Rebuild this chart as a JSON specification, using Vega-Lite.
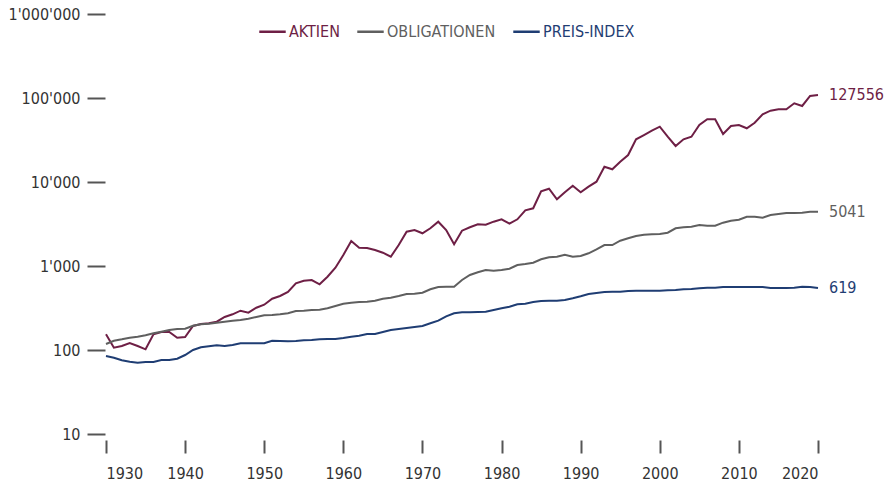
{
  "$schema": "https://vega.github.io/schema/vega-lite/v6.json",
  "width": 712,
  "height": 420,
  "autosize": {"type": "none"},
  "padding": {"left": 106, "top": 14, "right": 75, "bottom": 48},
  "background": "white",
  "config": {
    "view": {"stroke": null},
    "font": "DejaVu Sans Condensed, sans-serif",
    "locale": {"number": {"decimal": ".", "thousands": "'", "grouping": [3], "currency": ["", ""]}}
  },
  "datasets": {
    "series": [
      {"series": "AKTIEN", "year": 1930, "value": 153.8},
      {"series": "AKTIEN", "year": 1931, "value": 106.5},
      {"series": "AKTIEN", "year": 1932, "value": 111.6},
      {"series": "AKTIEN", "year": 1933, "value": 121.2},
      {"series": "AKTIEN", "year": 1934, "value": 111.6},
      {"series": "AKTIEN", "year": 1935, "value": 101.9},
      {"series": "AKTIEN", "year": 1936, "value": 153.8},
      {"series": "AKTIEN", "year": 1937, "value": 163.8},
      {"series": "AKTIEN", "year": 1938, "value": 163.8},
      {"series": "AKTIEN", "year": 1939, "value": 140.1},
      {"series": "AKTIEN", "year": 1940, "value": 142.8},
      {"series": "AKTIEN", "year": 1941, "value": 193.1},
      {"series": "AKTIEN", "year": 1942, "value": 204.0},
      {"series": "AKTIEN", "year": 1943, "value": 207.9},
      {"series": "AKTIEN", "year": 1944, "value": 217.3},
      {"series": "AKTIEN", "year": 1945, "value": 247.1},
      {"series": "AKTIEN", "year": 1946, "value": 266.1},
      {"series": "AKTIEN", "year": 1947, "value": 293.8},
      {"series": "AKTIEN", "year": 1948, "value": 278.0},
      {"series": "AKTIEN", "year": 1949, "value": 318.9},
      {"series": "AKTIEN", "year": 1950, "value": 346.2},
      {"series": "AKTIEN", "year": 1951, "value": 408.0},
      {"series": "AKTIEN", "year": 1952, "value": 439.4},
      {"series": "AKTIEN", "year": 1953, "value": 490.4},
      {"series": "AKTIEN", "year": 1954, "value": 622.3},
      {"series": "AKTIEN", "year": 1955, "value": 668.3},
      {"series": "AKTIEN", "year": 1956, "value": 681.3},
      {"series": "AKTIEN", "year": 1957, "value": 605.6},
      {"series": "AKTIEN", "year": 1958, "value": 745.8},
      {"series": "AKTIEN", "year": 1959, "value": 954.5},
      {"series": "AKTIEN", "year": 1960, "value": 1352},
      {"series": "AKTIEN", "year": 1961, "value": 1985},
      {"series": "AKTIEN", "year": 1962, "value": 1652},
      {"series": "AKTIEN", "year": 1963, "value": 1638},
      {"series": "AKTIEN", "year": 1964, "value": 1550},
      {"series": "AKTIEN", "year": 1965, "value": 1440},
      {"series": "AKTIEN", "year": 1966, "value": 1290},
      {"series": "AKTIEN", "year": 1967, "value": 1778},
      {"series": "AKTIEN", "year": 1968, "value": 2561},
      {"series": "AKTIEN", "year": 1969, "value": 2683},
      {"series": "AKTIEN", "year": 1970, "value": 2451},
      {"series": "AKTIEN", "year": 1971, "value": 2811},
      {"series": "AKTIEN", "year": 1972, "value": 3369},
      {"series": "AKTIEN", "year": 1973, "value": 2683},
      {"series": "AKTIEN", "year": 1974, "value": 1813},
      {"series": "AKTIEN", "year": 1975, "value": 2633},
      {"series": "AKTIEN", "year": 1976, "value": 2889},
      {"series": "AKTIEN", "year": 1977, "value": 3137},
      {"series": "AKTIEN", "year": 1978, "value": 3102},
      {"series": "AKTIEN", "year": 1979, "value": 3369},
      {"series": "AKTIEN", "year": 1980, "value": 3597},
      {"series": "AKTIEN", "year": 1981, "value": 3189},
      {"series": "AKTIEN", "year": 1982, "value": 3597},
      {"series": "AKTIEN", "year": 1983, "value": 4604},
      {"series": "AKTIEN", "year": 1984, "value": 4864},
      {"series": "AKTIEN", "year": 1985, "value": 7751},
      {"series": "AKTIEN", "year": 1986, "value": 8323},
      {"series": "AKTIEN", "year": 1987, "value": 6223},
      {"series": "AKTIEN", "year": 1988, "value": 7542},
      {"series": "AKTIEN", "year": 1989, "value": 9036},
      {"series": "AKTIEN", "year": 1990, "value": 7542},
      {"series": "AKTIEN", "year": 1991, "value": 8790},
      {"series": "AKTIEN", "year": 1992, "value": 10083},
      {"series": "AKTIEN", "year": 1993, "value": 15213},
      {"series": "AKTIEN", "year": 1994, "value": 14166},
      {"series": "AKTIEN", "year": 1995, "value": 17448},
      {"series": "AKTIEN", "year": 1996, "value": 20962},
      {"series": "AKTIEN", "year": 1997, "value": 32237},
      {"series": "AKTIEN", "year": 1998, "value": 36262},
      {"series": "AKTIEN", "year": 1999, "value": 40800},
      {"series": "AKTIEN", "year": 2000, "value": 45532},
      {"series": "AKTIEN", "year": 2001, "value": 34623},
      {"series": "AKTIEN", "year": 2002, "value": 26827},
      {"series": "AKTIEN", "year": 2003, "value": 32237},
      {"series": "AKTIEN", "year": 2004, "value": 34623},
      {"series": "AKTIEN", "year": 2005, "value": 47709},
      {"series": "AKTIEN", "year": 2006, "value": 55774},
      {"series": "AKTIEN", "year": 2007, "value": 55774},
      {"series": "AKTIEN", "year": 2008, "value": 37276},
      {"series": "AKTIEN", "year": 2009, "value": 46416},
      {"series": "AKTIEN", "year": 2010, "value": 47709},
      {"series": "AKTIEN", "year": 2011, "value": 43596},
      {"series": "AKTIEN", "year": 2012, "value": 50816},
      {"series": "AKTIEN", "year": 2013, "value": 63974},
      {"series": "AKTIEN", "year": 2014, "value": 70630},
      {"series": "AKTIEN", "year": 2015, "value": 73401},
      {"series": "AKTIEN", "year": 2016, "value": 73401},
      {"series": "AKTIEN", "year": 2017, "value": 86480},
      {"series": "AKTIEN", "year": 2018, "value": 80320},
      {"series": "AKTIEN", "year": 2019, "value": 105630},
      {"series": "AKTIEN", "year": 2020, "value": 108570},
      {"series": "OBLIGATIONEN", "year": 1930, "value": 117.9},
      {"series": "OBLIGATIONEN", "year": 1931, "value": 129.0},
      {"series": "OBLIGATIONEN", "year": 1932, "value": 134.1},
      {"series": "OBLIGATIONEN", "year": 1933, "value": 140.1},
      {"series": "OBLIGATIONEN", "year": 1934, "value": 144.0},
      {"series": "OBLIGATIONEN", "year": 1935, "value": 149.6},
      {"series": "OBLIGATIONEN", "year": 1936, "value": 158.1},
      {"series": "OBLIGATIONEN", "year": 1937, "value": 165.2},
      {"series": "OBLIGATIONEN", "year": 1938, "value": 173.0},
      {"series": "OBLIGATIONEN", "year": 1939, "value": 177.8},
      {"series": "OBLIGATIONEN", "year": 1940, "value": 179.3},
      {"series": "OBLIGATIONEN", "year": 1941, "value": 194.7},
      {"series": "OBLIGATIONEN", "year": 1942, "value": 202.3},
      {"series": "OBLIGATIONEN", "year": 1943, "value": 205.6},
      {"series": "OBLIGATIONEN", "year": 1944, "value": 211.3},
      {"series": "OBLIGATIONEN", "year": 1945, "value": 217.3},
      {"series": "OBLIGATIONEN", "year": 1946, "value": 223.4},
      {"series": "OBLIGATIONEN", "year": 1947, "value": 227.6},
      {"series": "OBLIGATIONEN", "year": 1948, "value": 235.9},
      {"series": "OBLIGATIONEN", "year": 1949, "value": 247.1},
      {"series": "OBLIGATIONEN", "year": 1950, "value": 258.9},
      {"series": "OBLIGATIONEN", "year": 1951, "value": 261.0},
      {"series": "OBLIGATIONEN", "year": 1952, "value": 266.1},
      {"series": "OBLIGATIONEN", "year": 1953, "value": 273.5},
      {"series": "OBLIGATIONEN", "year": 1954, "value": 291.3},
      {"series": "OBLIGATIONEN", "year": 1955, "value": 293.8},
      {"series": "OBLIGATIONEN", "year": 1956, "value": 299.4},
      {"series": "OBLIGATIONEN", "year": 1957, "value": 301.8},
      {"series": "OBLIGATIONEN", "year": 1958, "value": 313.6},
      {"series": "OBLIGATIONEN", "year": 1959, "value": 334.1},
      {"series": "OBLIGATIONEN", "year": 1960, "value": 355.8},
      {"series": "OBLIGATIONEN", "year": 1961, "value": 365.7},
      {"series": "OBLIGATIONEN", "year": 1962, "value": 372.8},
      {"series": "OBLIGATIONEN", "year": 1963, "value": 375.8},
      {"series": "OBLIGATIONEN", "year": 1964, "value": 386.3},
      {"series": "OBLIGATIONEN", "year": 1965, "value": 408.0},
      {"series": "OBLIGATIONEN", "year": 1966, "value": 419.4},
      {"series": "OBLIGATIONEN", "year": 1967, "value": 439.4},
      {"series": "OBLIGATIONEN", "year": 1968, "value": 464.2},
      {"series": "OBLIGATIONEN", "year": 1969, "value": 468.0},
      {"series": "OBLIGATIONEN", "year": 1970, "value": 481.0},
      {"series": "OBLIGATIONEN", "year": 1971, "value": 528.0},
      {"series": "OBLIGATIONEN", "year": 1972, "value": 562.3},
      {"series": "OBLIGATIONEN", "year": 1973, "value": 567.0},
      {"series": "OBLIGATIONEN", "year": 1974, "value": 567.0},
      {"series": "OBLIGATIONEN", "year": 1975, "value": 681.3},
      {"series": "OBLIGATIONEN", "year": 1976, "value": 781.4},
      {"series": "OBLIGATIONEN", "year": 1977, "value": 841.4},
      {"series": "OBLIGATIONEN", "year": 1978, "value": 896.6},
      {"series": "OBLIGATIONEN", "year": 1979, "value": 879.0},
      {"series": "OBLIGATIONEN", "year": 1980, "value": 896.6},
      {"series": "OBLIGATIONEN", "year": 1981, "value": 928.7},
      {"series": "OBLIGATIONEN", "year": 1982, "value": 1028},
      {"series": "OBLIGATIONEN", "year": 1983, "value": 1056},
      {"series": "OBLIGATIONEN", "year": 1984, "value": 1095},
      {"series": "OBLIGATIONEN", "year": 1985, "value": 1202},
      {"series": "OBLIGATIONEN", "year": 1986, "value": 1269},
      {"series": "OBLIGATIONEN", "year": 1987, "value": 1290},
      {"series": "OBLIGATIONEN", "year": 1988, "value": 1363},
      {"series": "OBLIGATIONEN", "year": 1989, "value": 1290},
      {"series": "OBLIGATIONEN", "year": 1990, "value": 1315},
      {"series": "OBLIGATIONEN", "year": 1991, "value": 1417},
      {"series": "OBLIGATIONEN", "year": 1992, "value": 1580},
      {"series": "OBLIGATIONEN", "year": 1993, "value": 1778},
      {"series": "OBLIGATIONEN", "year": 1994, "value": 1778},
      {"series": "OBLIGATIONEN", "year": 1995, "value": 2001},
      {"series": "OBLIGATIONEN", "year": 1996, "value": 2137},
      {"series": "OBLIGATIONEN", "year": 1997, "value": 2276},
      {"series": "OBLIGATIONEN", "year": 1998, "value": 2358},
      {"series": "OBLIGATIONEN", "year": 1999, "value": 2385},
      {"series": "OBLIGATIONEN", "year": 2000, "value": 2404},
      {"series": "OBLIGATIONEN", "year": 2001, "value": 2491},
      {"series": "OBLIGATIONEN", "year": 2002, "value": 2811},
      {"series": "OBLIGATIONEN", "year": 2003, "value": 2889},
      {"series": "OBLIGATIONEN", "year": 2004, "value": 2938},
      {"series": "OBLIGATIONEN", "year": 2005, "value": 3077},
      {"series": "OBLIGATIONEN", "year": 2006, "value": 3019},
      {"series": "OBLIGATIONEN", "year": 2007, "value": 3019},
      {"series": "OBLIGATIONEN", "year": 2008, "value": 3278},
      {"series": "OBLIGATIONEN", "year": 2009, "value": 3462},
      {"series": "OBLIGATIONEN", "year": 2010, "value": 3558},
      {"series": "OBLIGATIONEN", "year": 2011, "value": 3863},
      {"series": "OBLIGATIONEN", "year": 2012, "value": 3863},
      {"series": "OBLIGATIONEN", "year": 2013, "value": 3758},
      {"series": "OBLIGATIONEN", "year": 2014, "value": 4048},
      {"series": "OBLIGATIONEN", "year": 2015, "value": 4159},
      {"series": "OBLIGATIONEN", "year": 2016, "value": 4275},
      {"series": "OBLIGATIONEN", "year": 2017, "value": 4275},
      {"series": "OBLIGATIONEN", "year": 2018, "value": 4310},
      {"series": "OBLIGATIONEN", "year": 2019, "value": 4429},
      {"series": "OBLIGATIONEN", "year": 2020, "value": 4429},
      {"series": "PREIS-INDEX", "year": 1930, "value": 84.8},
      {"series": "PREIS-INDEX", "year": 1931, "value": 80.9},
      {"series": "PREIS-INDEX", "year": 1932, "value": 75.4},
      {"series": "PREIS-INDEX", "year": 1933, "value": 72.6},
      {"series": "PREIS-INDEX", "year": 1934, "value": 70.6},
      {"series": "PREIS-INDEX", "year": 1935, "value": 72.0},
      {"series": "PREIS-INDEX", "year": 1936, "value": 72.0},
      {"series": "PREIS-INDEX", "year": 1937, "value": 76.0},
      {"series": "PREIS-INDEX", "year": 1938, "value": 76.0},
      {"series": "PREIS-INDEX", "year": 1939, "value": 78.8},
      {"series": "PREIS-INDEX", "year": 1940, "value": 87.2},
      {"series": "PREIS-INDEX", "year": 1941, "value": 100.0},
      {"series": "PREIS-INDEX", "year": 1942, "value": 107.7},
      {"series": "PREIS-INDEX", "year": 1943, "value": 110.7},
      {"series": "PREIS-INDEX", "year": 1944, "value": 113.7},
      {"series": "PREIS-INDEX", "year": 1945, "value": 111.6},
      {"series": "PREIS-INDEX", "year": 1946, "value": 114.7},
      {"series": "PREIS-INDEX", "year": 1947, "value": 120.2},
      {"series": "PREIS-INDEX", "year": 1948, "value": 120.2},
      {"series": "PREIS-INDEX", "year": 1949, "value": 120.2},
      {"series": "PREIS-INDEX", "year": 1950, "value": 120.2},
      {"series": "PREIS-INDEX", "year": 1951, "value": 129.0},
      {"series": "PREIS-INDEX", "year": 1952, "value": 127.9},
      {"series": "PREIS-INDEX", "year": 1953, "value": 127.0},
      {"series": "PREIS-INDEX", "year": 1954, "value": 127.9},
      {"series": "PREIS-INDEX", "year": 1955, "value": 130.5},
      {"series": "PREIS-INDEX", "year": 1956, "value": 131.5},
      {"series": "PREIS-INDEX", "year": 1957, "value": 134.1},
      {"series": "PREIS-INDEX", "year": 1958, "value": 135.2},
      {"series": "PREIS-INDEX", "year": 1959, "value": 135.2},
      {"series": "PREIS-INDEX", "year": 1960, "value": 139.0},
      {"series": "PREIS-INDEX", "year": 1961, "value": 144.0},
      {"series": "PREIS-INDEX", "year": 1962, "value": 148.0},
      {"series": "PREIS-INDEX", "year": 1963, "value": 155.0},
      {"series": "PREIS-INDEX", "year": 1964, "value": 155.0},
      {"series": "PREIS-INDEX", "year": 1965, "value": 163.8},
      {"series": "PREIS-INDEX", "year": 1966, "value": 173.0},
      {"series": "PREIS-INDEX", "year": 1967, "value": 177.8},
      {"series": "PREIS-INDEX", "year": 1968, "value": 182.7},
      {"series": "PREIS-INDEX", "year": 1969, "value": 187.8},
      {"series": "PREIS-INDEX", "year": 1970, "value": 193.1},
      {"series": "PREIS-INDEX", "year": 1971, "value": 207.9},
      {"series": "PREIS-INDEX", "year": 1972, "value": 223.4},
      {"series": "PREIS-INDEX", "year": 1973, "value": 251.9},
      {"series": "PREIS-INDEX", "year": 1974, "value": 273.5},
      {"series": "PREIS-INDEX", "year": 1975, "value": 281.1},
      {"series": "PREIS-INDEX", "year": 1976, "value": 281.1},
      {"series": "PREIS-INDEX", "year": 1977, "value": 283.5},
      {"series": "PREIS-INDEX", "year": 1978, "value": 285.8},
      {"series": "PREIS-INDEX", "year": 1979, "value": 299.4},
      {"series": "PREIS-INDEX", "year": 1980, "value": 313.6},
      {"series": "PREIS-INDEX", "year": 1981, "value": 327.7},
      {"series": "PREIS-INDEX", "year": 1982, "value": 349.9},
      {"series": "PREIS-INDEX", "year": 1983, "value": 355.8},
      {"series": "PREIS-INDEX", "year": 1984, "value": 372.8},
      {"series": "PREIS-INDEX", "year": 1985, "value": 383.1},
      {"series": "PREIS-INDEX", "year": 1986, "value": 386.3},
      {"series": "PREIS-INDEX", "year": 1987, "value": 386.3},
      {"series": "PREIS-INDEX", "year": 1988, "value": 393.8},
      {"series": "PREIS-INDEX", "year": 1989, "value": 412.5},
      {"series": "PREIS-INDEX", "year": 1990, "value": 436.0},
      {"series": "PREIS-INDEX", "year": 1991, "value": 464.2},
      {"series": "PREIS-INDEX", "year": 1992, "value": 477.1},
      {"series": "PREIS-INDEX", "year": 1993, "value": 490.4},
      {"series": "PREIS-INDEX", "year": 1994, "value": 494.4},
      {"series": "PREIS-INDEX", "year": 1995, "value": 494.4},
      {"series": "PREIS-INDEX", "year": 1996, "value": 504.1},
      {"series": "PREIS-INDEX", "year": 1997, "value": 508.2},
      {"series": "PREIS-INDEX", "year": 1998, "value": 508.2},
      {"series": "PREIS-INDEX", "year": 1999, "value": 508.2},
      {"series": "PREIS-INDEX", "year": 2000, "value": 508.2},
      {"series": "PREIS-INDEX", "year": 2001, "value": 513.8},
      {"series": "PREIS-INDEX", "year": 2002, "value": 518.0},
      {"series": "PREIS-INDEX", "year": 2003, "value": 528.0},
      {"series": "PREIS-INDEX", "year": 2004, "value": 532.5},
      {"series": "PREIS-INDEX", "year": 2005, "value": 542.7},
      {"series": "PREIS-INDEX", "year": 2006, "value": 551.7},
      {"series": "PREIS-INDEX", "year": 2007, "value": 551.7},
      {"series": "PREIS-INDEX", "year": 2008, "value": 562.3},
      {"series": "PREIS-INDEX", "year": 2009, "value": 562.3},
      {"series": "PREIS-INDEX", "year": 2010, "value": 562.3},
      {"series": "PREIS-INDEX", "year": 2011, "value": 562.3},
      {"series": "PREIS-INDEX", "year": 2012, "value": 562.3},
      {"series": "PREIS-INDEX", "year": 2013, "value": 562.3},
      {"series": "PREIS-INDEX", "year": 2014, "value": 547.1},
      {"series": "PREIS-INDEX", "year": 2015, "value": 547.1},
      {"series": "PREIS-INDEX", "year": 2016, "value": 547.1},
      {"series": "PREIS-INDEX", "year": 2017, "value": 551.7},
      {"series": "PREIS-INDEX", "year": 2018, "value": 567.0},
      {"series": "PREIS-INDEX", "year": 2019, "value": 562.3},
      {"series": "PREIS-INDEX", "year": 2020, "value": 547.1}
    ],
    "ends": [
      {"series": "AKTIEN", "year": 2020, "value": 108570, "label": "127556"},
      {"series": "OBLIGATIONEN", "year": 2020, "value": 4429, "label": "5041"},
      {"series": "PREIS-INDEX", "year": 2020, "value": 547.1, "label": "619"}
    ]
  },
  "encoding": {
    "x": {
      "field": "year",
      "type": "quantitative",
      "scale": {"domain": [1930, 2020], "nice": false, "zero": false},
      "axis": {
        "title": null,
        "values": [1930, 1940, 1950, 1960, 1970, 1980, 1990, 2000, 2010, 2020],
        "format": "d",
        "domain": false,
        "grid": false,
        "offset": 6,
        "tickSize": 13,
        "tickWidth": 2,
        "tickColor": "#555555",
        "labelPadding": 12,
        "labelFontSize": 16,
        "labelColor": "#333333",
        "labelFont": "DejaVu Sans Condensed, sans-serif"
      }
    },
    "y": {
      "field": "value",
      "type": "quantitative",
      "scale": {"type": "log", "domain": [10, 1000000], "nice": false},
      "axis": {
        "title": null,
        "values": [10, 100, 1000, 10000, 100000, 1000000],
        "format": ",d",
        "domain": false,
        "grid": false,
        "offset": 1,
        "tickSize": 18,
        "tickWidth": 2,
        "tickColor": "#555555",
        "labelPadding": 7,
        "labelFontSize": 16,
        "labelColor": "#333333",
        "labelFont": "DejaVu Sans Condensed, sans-serif"
      }
    },
    "color": {
      "field": "series",
      "type": "nominal",
      "scale": {
        "domain": ["AKTIEN", "OBLIGATIONEN", "PREIS-INDEX"],
        "range": ["#6e1f45", "#5f5f5f", "#1f3d73"]
      }
    }
  },
  "layer": [
    {
      "data": {"name": "series"},
      "mark": {"type": "line", "strokeWidth": 2},
      "encoding": {
        "color": {
          "field": "series",
          "type": "nominal",
          "scale": {
            "domain": ["AKTIEN", "OBLIGATIONEN", "PREIS-INDEX"],
            "range": ["#6e1f45", "#5f5f5f", "#1f3d73"]
          },
          "legend": {
            "title": null,
            "orient": "none",
            "direction": "horizontal",
            "legendX": 152,
            "legendY": 3,
            "padding": 0,
            "symbolType": "stroke",
            "symbolSize": 700,
            "symbolStrokeWidth": 2.5,
            "labelFontSize": 16,
            "labelOffset": 2,
            "columnPadding": 12,
            "labelFont": "DejaVu Sans Condensed, sans-serif",
            "encode": {
              "labels": {
                "update": {
                  "fill": {"signal": "datum.value === 'AKTIEN' ? '#6e1f45' : datum.value === 'OBLIGATIONEN' ? '#5f5f5f' : '#1f3d73'"}
                }
              }
            }
          }
        }
      }
    },
    {
      "data": {"name": "ends"},
      "mark": {
        "type": "text",
        "align": "left",
        "baseline": "middle",
        "dx": 11,
        "fontSize": 16,
        "font": "DejaVu Sans Condensed, sans-serif"
      },
      "encoding": {
        "text": {"field": "label"},
        "color": {"field": "series", "type": "nominal", "legend": null}
      }
    }
  ]
}
